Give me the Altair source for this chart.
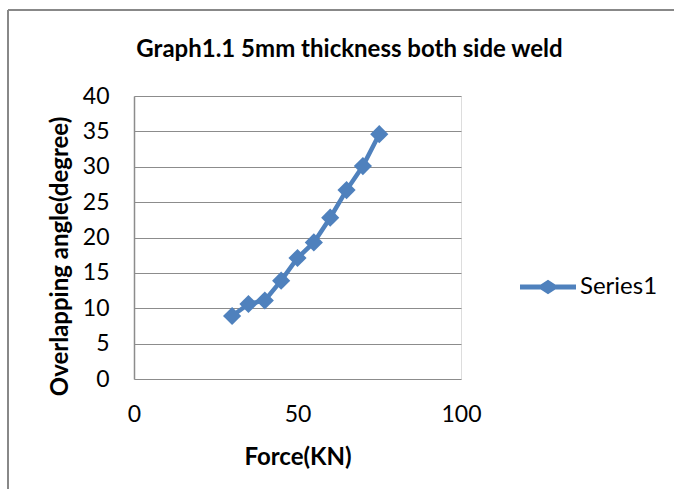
import altair as alt
import pandas as pd

force = [30, 35, 40, 45, 50, 55, 60, 65, 70, 75]
angle = [8.9, 10.6, 11.1, 13.9, 17.1, 19.3, 22.8, 26.7, 30.1, 34.6]
series = ["Series1"] * len(force)
x_ticks = [0, 50, 100]
y_ticks = [0, 5, 10, 15, 20, 25, 30, 35, 40]

df = pd.DataFrame({"Force": force, "Angle": angle, "Series": series})

FONT = "Lato, sans-serif"
BLUE = "#4F81BD"
GRID = "#8c8c8c"

legend_symbol = ("M-1,-0.09 L-0.26,-0.09 L0,-0.26 L0.26,-0.09 L1,-0.09 L1,0.09 "
                 "L0.26,0.09 L0,0.26 L-0.26,0.09 L-1,0.09 Z")

x_enc = alt.X("Force:Q", scale=alt.Scale(domain=[0, 100], nice=False),
              axis=alt.Axis(values=x_ticks, grid=False, domain=False, ticks=False,
                            title="Force(KN)", titleFontSize=24, titleFontWeight="bold",
                            titleFont=FONT, titleColor="black", titlePadding=19,
                            labelFont=FONT, labelFontSize=23, labelColor="black",
                            labelPadding=24, labelFlush=False))
y_enc = alt.Y("Angle:Q", scale=alt.Scale(domain=[0, 40], nice=False),
              axis=alt.Axis(values=y_ticks, grid=True, gridColor=GRID, gridWidth=1.2,
                            domain=True, domainColor=GRID, domainWidth=1.5, ticks=False,
                            labelOverlap=False,
                            title="Overlapping angle(degree)", titleFontSize=24,
                            titleFontWeight="bold", titleFont=FONT, titleColor="black",
                            titleX=-62, titleY=160, titleAngle=-90, titleAlign="center",
                            titleBaseline="bottom",
                            labelFont=FONT, labelFontSize=23, labelColor="black",
                            labelPadding=25))
color_enc = alt.Color("Series:N", scale=alt.Scale(range=[BLUE]),
                      legend=alt.Legend(title=None, orient="none", legendX=386, legendY=163,
                                        symbolType=legend_symbol, symbolSize=3136,
                                        symbolFillColor=BLUE, symbolStrokeWidth=0,
                                        labelFont=FONT, labelFontSize=24, labelColor="black",
                                        labelOffset=4))

line = alt.Chart(df).mark_line(strokeWidth=4.5, color=BLUE).encode(
    x=x_enc, y=y_enc, color=color_enc)
points = alt.Chart(df).mark_point(shape="diamond", filled=True, size=330, opacity=1,
                                  color=BLUE).encode(x=x_enc, y=y_enc)

border_left = alt.Chart(df).mark_rule(color="#888888", strokeWidth=1.5, clip=False).encode(
    x=alt.value(-126), y=alt.value(-86), y2=alt.value(420))
border_top = alt.Chart(df).mark_rule(color="#888888", strokeWidth=1.5, clip=False).encode(
    x=alt.value(-126), x2=alt.value(560), y=alt.value(-86))

chart = alt.layer(line, points, border_left, border_top).properties(
    width=327, height=283,
    autosize=alt.AutoSizeParams(type="none"),
    padding={"left": 134, "top": 96, "right": 213, "bottom": 110},
    title=alt.TitleParams("Graph1.1 5mm thickness both side weld", font=FONT,
                          fontSize=24, fontWeight="bold", color="black",
                          anchor="middle", dx=52, offset=-72, baseline="alphabetic"),
).configure_view(stroke=None).configure(background="white")

chart.save("out.html", embed_options={"renderer": "svg", "actions": False})
